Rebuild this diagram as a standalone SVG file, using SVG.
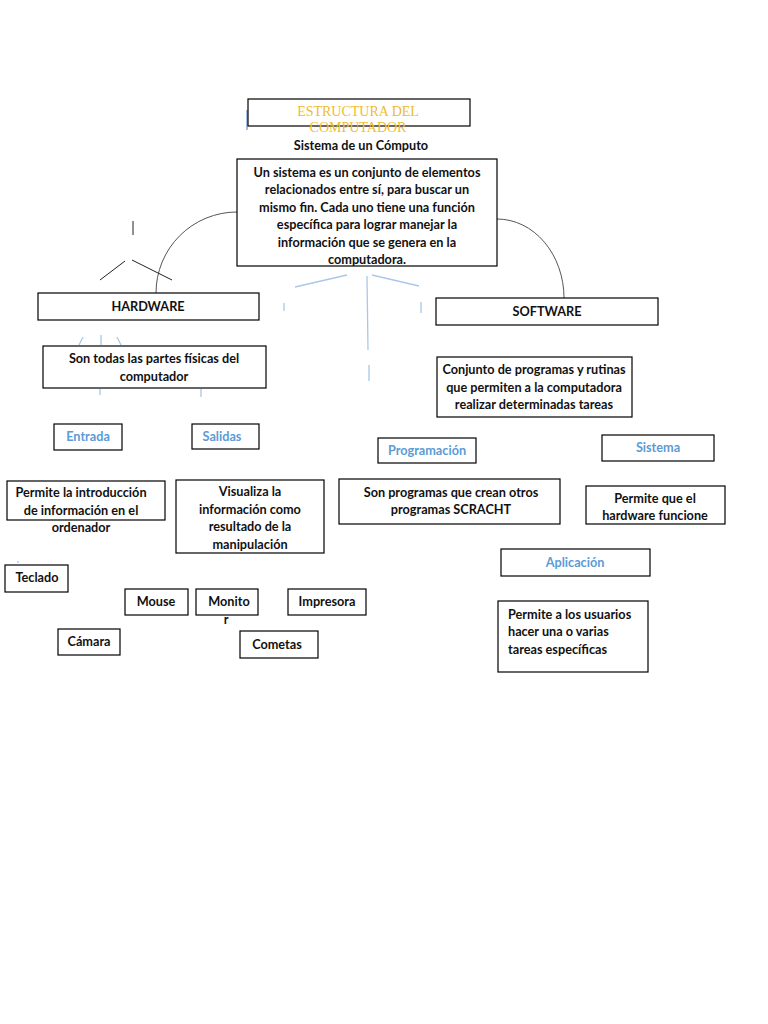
<svg xmlns="http://www.w3.org/2000/svg" width="768" height="1024" viewBox="0 0 768 1024">
<style>
.b{fill:#fff;stroke:#000;stroke-width:1.2}
.t{font-family:Lato,"Open Sans",sans-serif;font-weight:bold;font-size:12.7px;fill:#111;text-anchor:middle}
.tl{font-family:Lato,"Open Sans",sans-serif;font-weight:bold;font-size:12.7px;fill:#111}
.bl{font-family:Lato,"Open Sans",sans-serif;font-weight:bold;font-size:12.7px;fill:#5b9bd5;text-anchor:middle}
.c{fill:none;stroke:#555;stroke-width:1}
.lb{fill:none;stroke:#a9c8e8;stroke-width:1.3}
.k{fill:none;stroke:#222;stroke-width:1}
</style>
<rect width="768" height="1024" fill="#fff"/>
<g id="connectors">
<path class="c" d="M237,212 A81,81 0 0 0 156,293"/>
<path class="c" d="M497,219 A67,79 0 0 1 564,298"/>
<path class="k" d="M133,221 V235 M125,261 L100,280 M132,260 L172,280"/>
<path class="lb" d="M295,287 L347,275 M367,276 L368,350 M372,275 L419,286 M284,303 V311 M421,302 V313 M369,365 V381"/>
<path class="lb" d="M83,337 L79,345 M101,335 V345 M117,337 L121,345 M100,389 V395 M201,389 V397"/>
<path d="M247,110 V130" stroke="#4a7fc0" stroke-width="1"/>
<path d="M366,222 V238" stroke="#333" stroke-width="1"/>
<circle cx="18" cy="562" r="0.8" fill="#8ab"/>
</g>
<g id="title">
<rect class="b" x="248" y="99" width="222" height="27"/>
<text x="358" y="116" font-family="Liberation Serif,serif" font-size="14" fill="#eebc30" text-anchor="middle">ESTRUCTURA DEL</text>
<text x="358" y="132" font-family="Liberation Serif,serif" font-size="14" fill="#eebc30" text-anchor="middle">COMPUTADOR</text>
</g>
<g id="subtitle"><text class="t" x="361" y="150">Sistema de un Cómputo</text></g>
<g id="sistema-def">
<rect class="b" x="237" y="159" width="260" height="107"/>
<text class="t" x="367" y="177">Un sistema es un conjunto de elementos</text>
<text class="t" x="367" y="194">relacionados entre sí, para buscar un</text>
<text class="t" x="367" y="212">mismo fin. Cada uno tiene una función</text>
<text class="t" x="367" y="229">específica para lograr manejar la</text>
<text class="t" x="367" y="247">información que se genera en la</text>
<text class="t" x="367" y="264">computadora.</text>
</g>
<g id="hardware"><rect class="b" x="38" y="293" width="221" height="27"/><text class="t" x="148" y="311">HARDWARE</text></g>
<g id="software"><rect class="b" x="436" y="298" width="222" height="27"/><text class="t" x="547" y="316">SOFTWARE</text></g>
<g id="hw-def"><rect class="b" x="43" y="346" width="223" height="42"/>
<text class="t" x="154" y="363">Son todas las partes físicas del</text>
<text class="t" x="154" y="381">computador</text></g>
<g id="sw-def"><rect class="b" x="437" y="357" width="195" height="60"/>
<text class="t" x="534" y="374">Conjunto de programas y rutinas</text>
<text class="t" x="534" y="392">que permiten a la computadora</text>
<text class="t" x="534" y="409">realizar determinadas tareas</text></g>
<g id="entrada"><rect class="b" x="54" y="424" width="68" height="26"/><text class="bl" x="88" y="441">Entrada</text></g>
<g id="salidas"><rect class="b" x="192" y="424" width="67" height="25"/><text class="bl" x="222" y="441">Salidas</text></g>
<g id="programacion"><rect class="b" x="378" y="438" width="98" height="25"/><text class="bl" x="427" y="455">Programación</text></g>
<g id="sistema"><rect class="b" x="602" y="435" width="112" height="26"/><text class="bl" x="658" y="452">Sistema</text></g>
<g id="entrada-def"><rect class="b" x="7" y="481" width="158" height="39"/>
<text class="t" x="81" y="497">Permite la introducción</text>
<text class="t" x="81" y="515">de información en el</text>
<text class="t" x="81" y="532">ordenador</text></g>
<g id="salidas-def"><rect class="b" x="176" y="480" width="148" height="73"/>
<text class="t" x="250" y="496">Visualiza la</text>
<text class="t" x="250" y="514">información como</text>
<text class="t" x="250" y="531">resultado de la</text>
<text class="t" x="250" y="549">manipulación</text></g>
<g id="prog-def"><rect class="b" x="339" y="479" width="221" height="45"/>
<text class="t" x="451" y="497">Son programas que crean otros</text>
<text class="t" x="451" y="514">programas SCRACHT</text></g>
<g id="sistema-def2"><rect class="b" x="586" y="486" width="139" height="38"/>
<text class="t" x="655" y="503">Permite que el</text>
<text class="t" x="655" y="520">hardware funcione</text></g>
<g id="aplicacion"><rect class="b" x="501" y="549" width="149" height="27"/><text class="bl" x="575" y="567">Aplicación</text></g>
<g id="aplic-def"><rect class="b" x="498" y="601" width="150" height="71"/>
<text class="tl" x="508" y="619">Permite a los usuarios</text>
<text class="tl" x="508" y="636">hacer una o varias</text>
<text class="tl" x="508" y="654">tareas específicas</text></g>
<g id="teclado"><rect class="b" x="5" y="565" width="63" height="27"/><text class="t" x="37" y="582">Teclado</text></g>
<g id="mouse"><rect class="b" x="125" y="589" width="63" height="26"/><text class="t" x="156" y="606">Mouse</text></g>
<g id="monitor"><rect class="b" x="196" y="589" width="62" height="26"/><text class="t" x="229" y="606">Monito</text><text class="t" x="226" y="624">r</text></g>
<g id="impresora"><rect class="b" x="288" y="589" width="78" height="26"/><text class="t" x="327" y="606">Impresora</text></g>
<g id="camara"><rect class="b" x="58" y="629" width="62" height="26"/><text class="t" x="89" y="646">Cámara</text></g>
<g id="cometas"><rect class="b" x="240" y="631" width="78" height="27"/><text class="t" x="277" y="649">Cometas</text></g>
</svg>
